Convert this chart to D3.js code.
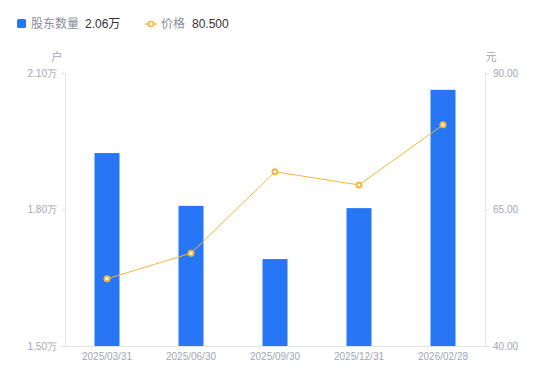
<!DOCTYPE html>
<html>
<head>
<meta charset="utf-8">
<script src="https://cdn.jsdelivr.net/npm/d3@7"></script>
<style>
  body { margin: 0; background: #fff; }
  svg { font-family: "Liberation Sans", Arial, "Noto Sans CJK SC", sans-serif; }
  .tick text { fill: #a3a6b4; font-size: 10px; }
</style>
</head>
<body>
<div id="chart"></div>
<script>
/* DATA */
const dates = ["2025/03/31", "2025/06/30", "2025/09/30", "2025/12/31", "2026/02/28"];
const holders = [1.924, 1.808, 1.691, 1.803, 2.063]; // 万户
const prices = [52.3, 57.0, 71.9, 69.5, 80.5]; // 元
const leftTicks = [1.5, 1.8, 2.1];
const rightTicks = [40, 65, 90];

const width = 550,
  height = 381,
  margin = { top: 73, bottom: 35, left: 65, right: 65 };

const barColor = "#2776f6",
  lineColor = "#f8b53a",
  axisColor = "#e3e4e8";

const svg = d3.select("#chart")
  .append("svg")
  .attr("width", width)
  .attr("height", height);

const xScale = d3.scaleBand()
  .domain(dates)
  .range([margin.left, width - margin.right])
  .padding(0);

const yLeft = d3.scaleLinear()
  .domain([1.5, 2.1])
  .range([height - margin.bottom, margin.top]);

const yRight = d3.scaleLinear()
  .domain([40, 90])
  .range([height - margin.bottom, margin.top]);

// axes
const leftAxis = svg.append("g")
  .attr("transform", `translate(${margin.left},0)`)
  .call(d3.axisLeft(yLeft).tickValues(leftTicks).tickSize(4).tickPadding(4)
    .tickFormat(d => d3.format(".2f")(d) + "万"));

const rightAxis = svg.append("g")
  .attr("transform", `translate(${width - margin.right},0)`)
  .call(d3.axisRight(yRight).tickValues(rightTicks).tickSize(4).tickPadding(4)
    .tickFormat(d3.format(".2f")));

const xAxis = svg.append("g")
  .attr("transform", `translate(0,${height - margin.bottom})`)
  .call(d3.axisBottom(xScale).tickSize(0).tickPadding(7));

[leftAxis, rightAxis, xAxis].forEach(g => {
  g.select(".domain").attr("stroke", axisColor);
  g.selectAll(".tick line").attr("stroke", axisColor);
});

// unit labels
svg.append("text")
  .attr("x", margin.left - 8).attr("y", 61)
  .attr("text-anchor", "middle")
  .attr("fill", "#a3a6b4").attr("font-size", 11)
  .text("户");
svg.append("text")
  .attr("x", width - margin.right + 6).attr("y", 61)
  .attr("text-anchor", "middle")
  .attr("fill", "#a3a6b4").attr("font-size", 11)
  .text("元");

// bars
const barW = 25;
svg.selectAll("rect.bar")
  .data(holders)
  .join("rect")
  .attr("class", "bar")
  .attr("x", (d, i) => xScale(dates[i]) + xScale.bandwidth() / 2 - barW / 2)
  .attr("y", d => yLeft(d))
  .attr("width", barW)
  .attr("height", d => yLeft(1.5) - yLeft(d))
  .attr("fill", barColor);

// price line
const lineFunc = d3.line()
  .x((d, i) => xScale(dates[i]) + xScale.bandwidth() / 2)
  .y(d => yRight(d));

svg.append("path")
  .datum(prices)
  .attr("fill", "none")
  .attr("stroke", lineColor)
  .attr("stroke-width", 1)
  .attr("d", lineFunc);

svg.selectAll("circle.pt")
  .data(prices)
  .join("circle")
  .attr("class", "pt")
  .attr("cx", (d, i) => xScale(dates[i]) + xScale.bandwidth() / 2)
  .attr("cy", d => yRight(d))
  .attr("r", 2.5)
  .attr("fill", "#fff")
  .attr("stroke", lineColor)
  .attr("stroke-width", 2);

// legend
const legend = svg.append("g").attr("font-size", 12);
legend.append("rect")
  .attr("x", 17).attr("y", 19).attr("width", 9).attr("height", 9).attr("rx", 1.5)
  .attr("fill", barColor);
legend.append("text").attr("x", 31).attr("y", 28).attr("fill", "#8a8d99").text("股东数量");
legend.append("text").attr("x", 85).attr("y", 28).attr("fill", "#333").text(d3.format(".2f")(holders[4]) + "万");

legend.append("line")
  .attr("x1", 145).attr("x2", 157).attr("y1", 24).attr("y2", 24)
  .attr("stroke", lineColor).attr("stroke-width", 1.5);
legend.append("circle")
  .attr("cx", 151).attr("cy", 24).attr("r", 2.5)
  .attr("fill", "#fff").attr("stroke", lineColor).attr("stroke-width", 1.5);
legend.append("text").attr("x", 161).attr("y", 28).attr("fill", "#8a8d99").text("价格");
legend.append("text").attr("x", 192).attr("y", 28).attr("fill", "#333").text(d3.format(".3f")(prices[4]));
</script>
</body>
</html>
